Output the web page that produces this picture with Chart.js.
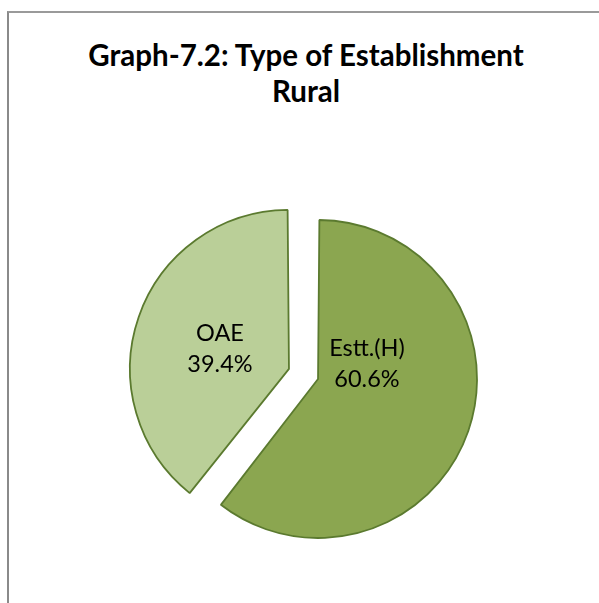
<!DOCTYPE html>
<html>
<head>
<meta charset="utf-8">
<script src="https://cdn.jsdelivr.net/npm/chart.js@4/dist/chart.umd.min.js"></script>
<style>
  html, body { margin: 0; padding: 0; background: #fff; }
  #wrap { position: relative; width: 599px; height: 603px; overflow: hidden; }
  #frame { position: absolute; left: 7px; top: 11px; width: 700px; height: 700px;
           border-left: 2px solid #8a8a8a; border-top: 2px solid #9a9a9a; box-sizing: border-box; }
  #title { position: absolute; left: 0; top: 37px; width: 599px; padding-left: 13px; box-sizing: border-box;
           text-align: center; font-family: Lato, "Open Sans", sans-serif; font-weight: bold;
           font-size: 29.5px; line-height: 36px; color: #000; white-space: nowrap; }
  canvas { position: absolute; left: 0; top: 0; }
</style>
</head>
<body>
<div id="wrap">
  <div id="frame"></div>
  <div id="title">Graph-7.2: Type of Establishment<br>Rural</div>
  <canvas id="c" width="599" height="603"></canvas>
</div>
<script>
const categories = ['Estt.(H)', 'OAE'];
const shares = [60.6, 39.4];
const percentLabels = ['60.6%', '39.4%'];

const labelPlugin = {
  id: 'sliceLabels',
  afterDatasetsDraw(chart, args, opts) {
    const ctx = chart.ctx;
    const meta = chart.getDatasetMeta(0);
    ctx.save();
    ctx.font = opts.font;
    ctx.fillStyle = opts.color;
    ctx.textAlign = 'center';
    ctx.textBaseline = 'middle';
    meta.data.forEach((arc, i) => {
      const off = opts.offsets[i];
      const x = arc.x + off[0];
      const y = arc.y + off[1];
      ctx.fillText(chart.data.labels[i], x, y - opts.lineGap / 2);
      ctx.fillText(percentLabels[i], x, y + opts.lineGap / 2);
    });
    ctx.restore();
  }
};

new Chart(document.getElementById('c'), {
  type: 'pie',
  data: {
    labels: categories,
    datasets: [{
      data: shares,
      backgroundColor: ['#8ba650', '#bacf98'],
      borderColor: '#5b7a2f',
      borderWidth: 1.8,
      offset: [34, 89]
    }]
  },
  options: {
    responsive: false,
    animation: false,
    radius: 150.5,
    layout: { padding: { left: 21, right: 0, top: 149.4, bottom: 0 } },
    plugins: {
      legend: { display: false },
      tooltip: { enabled: false },
      title: { display: false },
      sliceLabels: {
        font: '23.5px Lato, "Open Sans", sans-serif',
        color: '#000',
        lineGap: 31,
        offsets: [[57, -12], [-90, -27.7]]
      }
    },
    events: []
  },
  plugins: [labelPlugin]
});
</script>
</body>
</html>
